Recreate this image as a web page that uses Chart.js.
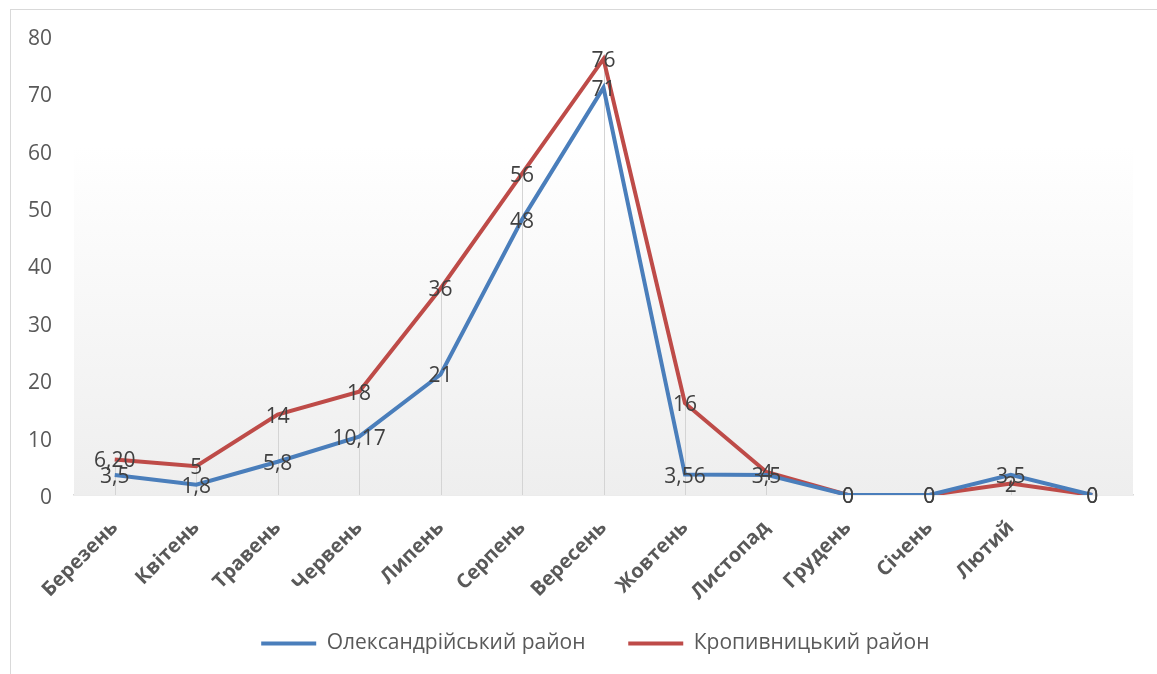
<!DOCTYPE html>
<html lang="uk">
<head>
<meta charset="utf-8">
<title>Олександрійський та Кропивницький райони</title>
<script src="https://cdn.jsdelivr.net/npm/chart.js@4/dist/chart.umd.min.js"></script>
<style>
  html, body { margin: 0; padding: 0; background: #ffffff; overflow: hidden; }
  #wrap { position: relative; width: 1157px; height: 674px; }
  #frame { position: absolute; left: 10px; top: 9px; width: 1200px; height: 720px;
           border: 1.5px solid #d9d9d9; box-sizing: border-box; pointer-events: none; }
  canvas { position: absolute; left: 0; top: 0; }
</style>
</head>
<body>
<div id="wrap">
  <div id="frame"></div>
  <canvas id="chart" width="1157" height="674"></canvas>
</div>
<script>
// Місяці (остання позиція без підпису)
const months = ['Березень', 'Квітень', 'Травень', 'Червень', 'Липень', 'Серпень',
                'Вересень', 'Жовтень', 'Листопад', 'Грудень', 'Січень', 'Лютий', ''];

// Значення як підписи даних; точки будуються з тих самих чисел
const oleksandriiaLabels = ['3,5', '1,8', '5,8', '10,17', '21', '48', '71', '3,56', '3,5', '0', '0', '3,5', '0'];
const kropyvnytskyiLabels = ['6,20', '5', '14', '18', '36', '56', '76', '16', '4', '0', '0', '2', '0'];

const toNumber = s => parseFloat(s.replace(',', '.'));
const oleksandriia = oleksandriiaLabels.map(toNumber);
const kropyvnytskyi = kropyvnytskyiLabels.map(toNumber);

// Поділки осі Y
const yMin = 0, yMax = 80, yStep = 10;

const seriesNames = ['Олександрійський район', 'Кропивницький район'];
const seriesColors = ['#4a7ebb', '#be4b48'];
const seriesLabelText = [oleksandriiaLabels, kropyvnytskyiLabels];
// Додатковий відступ після тексту пунктів легенди
const legendTrail = ['      ', '   '];

// Світлий градієнт тла області побудови
const plotBackground = {
  id: 'plotBackground',
  beforeDatasetsDraw(chart) {
    const { ctx, chartArea: a } = chart;
    const g = ctx.createLinearGradient(0, a.top, 0, a.bottom);
    g.addColorStop(0, '#ffffff');
    g.addColorStop(0.24, '#ffffff');
    g.addColorStop(1, '#eeeeee');
    ctx.save();
    ctx.fillStyle = g;
    ctx.fillRect(a.left, a.top, a.right - a.left, a.bottom - a.top);
    ctx.restore();
  }
};

// Вертикальні лінії від найвищої точки до осі
const dropLines = {
  id: 'dropLines',
  beforeDatasetsDraw(chart) {
    const { ctx, scales: { x, y } } = chart;
    ctx.save();
    ctx.strokeStyle = '#d4d4d4';
    ctx.lineWidth = 1;
    months.forEach((m, i) => {
      const top = Math.max(oleksandriia[i], kropyvnytskyi[i]);
      if (top <= 0) return;
      const px = Math.round(x.getPixelForValue(i)) + 0.5;
      ctx.beginPath();
      ctx.moveTo(px, y.getPixelForValue(top));
      ctx.lineTo(px, y.getPixelForValue(0));
      ctx.stroke();
    });
    ctx.restore();
  }
};

// Підписи значень по центру точок
const valueLabels = {
  id: 'valueLabels',
  afterDatasetsDraw(chart) {
    const { ctx } = chart;
    ctx.save();
    ctx.font = '21px "Open Sans", sans-serif';
    ctx.fillStyle = '#404040';
    ctx.textAlign = 'center';
    ctx.textBaseline = 'middle';
    chart.data.datasets.forEach((ds, di) => {
      const meta = chart.getDatasetMeta(di);
      meta.data.forEach((pt, i) => {
        ctx.fillText(seriesLabelText[di][i], pt.x, pt.y + 2);
      });
    });
    ctx.restore();
  }
};

new Chart(document.getElementById('chart'), {
  type: 'line',
  data: {
    labels: months,
    datasets: [
      { label: seriesNames[0], data: oleksandriia, borderColor: seriesColors[0],
        backgroundColor: seriesColors[0], borderWidth: 4, pointRadius: 0, tension: 0 },
      { label: seriesNames[1], data: kropyvnytskyi, borderColor: seriesColors[1],
        backgroundColor: seriesColors[1], borderWidth: 4, pointRadius: 0, tension: 0 }
    ]
  },
  options: {
    responsive: false,
    animation: false,
    layout: { padding: { left: 0, right: 24, top: 36, bottom: 10 } },
    plugins: {
      legend: {
        position: 'bottom',
        fullSize: false,
        labels: {
          usePointStyle: true,
          pointStyle: 'line',
          pointStyleWidth: 55,
          padding: 10,
          color: '#595959',
          font: { family: '"Liberation Sans Narrow", "Open Sans", sans-serif', size: 21 },
          generateLabels(chart) {
            const items = Chart.defaults.plugins.legend.labels.generateLabels(chart);
            items.forEach((it, i) => { it.text = it.text + legendTrail[i]; });
            return items;
          }
        }
      },
      tooltip: { enabled: false }
    },
    scales: {
      x: {
        offset: true,
        grid: { display: false, drawTicks: false },
        border: { display: true, color: '#d9d9d9', width: 1.5 },
        ticks: {
          autoSkip: false, minRotation: 45, maxRotation: 45, padding: 21,
          color: '#595959',
          font: { family: '"Open Sans", sans-serif', size: 20, weight: 'bold' }
        },
        afterFit(scale) { scale.height = 128; }
      },
      y: {
        min: yMin, max: yMax,
        grid: { display: false, drawTicks: false },
        border: { display: false },
        ticks: {
          stepSize: yStep, padding: 22, labelOffset: 3,
          color: '#595959',
          font: { family: '"Open Sans", sans-serif', size: 21 }
        },
        afterFit(scale) { scale.width = 74; }
      }
    }
  },
  plugins: [plotBackground, dropLines, valueLabels]
});
</script>
</body>
</html>
